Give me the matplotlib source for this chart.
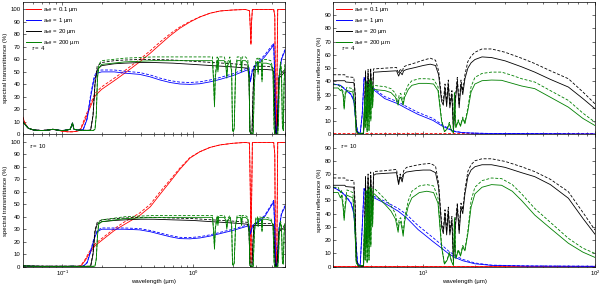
import matplotlib
matplotlib.use('Agg')
import matplotlib.pyplot as plt
from matplotlib.lines import Line2D

plt.rcParams['font.family'] = ['Liberation Sans', 'DejaVu Sans']
plt.rcParams['mathtext.fontset'] = 'custom'
plt.rcParams['mathtext.rm'] = 'Liberation Sans'
plt.rcParams['mathtext.it'] = 'Liberation Sans:italic'

# ---- left panels: spectral transmittance, 0.05-5 µm ----
red_lam = [0.05, 0.052, 0.055, 0.06, 0.07, 0.08, 0.085, 0.09, 0.1, 0.11,
           0.12, 0.13, 0.135, 0.14, 0.15, 0.16, 0.17, 0.179, 0.2, 0.25,
           0.3, 0.39, 0.47, 0.558, 0.665, 0.79, 0.944, 1.12, 1.34, 1.6,
           2.0, 2.5, 2.68, 2.72, 2.75, 2.78, 2.82, 4.1, 4.18, 4.22,
           4.26, 4.3, 4.34, 4.4, 5.0]
red_t4 = [14, 9, 5, 3.5, 3, 3.5, 4, 3.5, 2.5, 2,
          2, 2.5, 3, 5, 12, 19, 26, 31, 36, 43,
          49, 58, 65, 72, 79, 85, 90, 94, 97, 98.8,
          99.6, 100, 99, 85, 72, 90, 100, 100, 95, 40,
          3, 2, 40, 100, 100]
red_t4d = [14, 9, 5, 3.5, 3, 3.5, 4, 3.5, 2.5, 2,
           2, 2.5, 3, 6, 14, 21, 28, 33, 38, 45,
           51, 60, 67, 74, 80.5, 86, 90.5, 94, 97, 98.8,
           99.6, 100, 99, 85, 72, 90, 100, 100, 95, 40,
           3, 2, 40, 100, 100]
red_t10 = [0.8, 0.6, 0.5, 0.4, 0.3, 0.3, 0.3, 0.3, 0.3, 0.3,
           0.3, 0.3, 0.4, 1, 5, 10, 14, 17, 21, 29,
           34, 41, 48, 58, 68, 78, 87, 92, 95.5, 97.5,
           98.8, 99.5, 99, 60, 3, 50, 99.5, 99.5, 90, 20,
           0.5, 0.5, 20, 99.5, 99.5]
red_t10d = [0.8, 0.6, 0.5, 0.4, 0.3, 0.3, 0.3, 0.3, 0.3, 0.3,
            0.3, 0.3, 0.4, 1.5, 6, 11.5, 15.5, 18.5, 22.5, 30.5,
            36, 43, 50, 60, 69.5, 79, 87.5, 92, 95.5, 97.5,
            98.8, 99.5, 99, 60, 3, 50, 99.5, 99.5, 90, 20,
            0.5, 0.5, 20, 99.5, 99.5]

blue_lam = [0.05, 0.052, 0.055, 0.06, 0.07, 0.08, 0.085, 0.09, 0.1, 0.11,
            0.115, 0.12, 0.123, 0.13, 0.14, 0.145, 0.155, 0.165, 0.175, 0.185,
            0.2, 0.25, 0.3, 0.39, 0.47, 0.558, 0.665, 0.79, 0.944, 1.12,
            1.34, 1.6, 2.0, 2.5, 2.66, 2.72, 2.76, 2.82, 3.0, 3.5,
            4.0, 4.1, 4.18, 4.24, 4.3, 4.36, 4.5, 4.7, 5.0]
blue_t4 = [10, 8, 5, 3.5, 3, 3.5, 4, 3.5, 3, 3.5,
           4, 9, 4, 3.5, 3.5, 4, 12, 30, 44, 49,
           50, 50, 49, 48, 46, 43.5, 41.5, 40.3, 40, 40.5,
           42, 44, 47, 51, 52, 42, 45, 51, 55, 62,
           70, 72, 45, 5, 0, 8, 45, 60, 67]
blue_t4d = [10, 8, 5, 3.5, 3, 3.5, 4, 3.5, 3, 3.5,
            4, 9, 4, 3.5, 3.5, 4, 13, 32, 46, 51,
            51.5, 51.5, 50.5, 49.5, 47.5, 45, 43, 41.8, 41.5, 42,
            43.5, 45.5, 48.5, 52.5, 53.5, 43, 46, 52.5, 56.5, 63.5,
            71.5, 73, 45, 5, 0, 8, 46, 61, 68]
blue_t10 = [0.8, 0.6, 0.5, 0.4, 0.3, 0.3, 0.3, 0.3, 0.3, 0.3,
            0.3, 0.5, 0.3, 0.3, 0.3, 0.5, 3, 12, 22, 28,
            30, 30, 30, 29.5, 28, 26, 24, 22.5, 22.3, 23,
            24.5, 26.5, 29, 32, 33, 26, 28, 32, 34, 40,
            50, 52, 30, 2, 0, 4, 30, 42, 48]
blue_t10d = [0.8, 0.6, 0.5, 0.4, 0.3, 0.3, 0.3, 0.3, 0.3, 0.3,
             0.3, 0.5, 0.3, 0.3, 0.3, 0.5, 3.5, 13, 23, 29,
             31, 31, 31, 30.5, 29, 27, 25, 23.5, 23.3, 24,
             25.5, 27.5, 30, 33, 34, 27, 29, 33, 35, 41,
             51, 53, 30, 2, 0, 4, 31, 43, 49]

black_lam = [0.05, 0.052, 0.055, 0.06, 0.07, 0.08, 0.085, 0.09, 0.1, 0.11,
             0.115, 0.12, 0.123, 0.13, 0.14, 0.16, 0.165, 0.172, 0.178, 0.185,
             0.2, 0.25, 0.3, 0.4, 0.5, 0.7, 1.0, 1.4, 2.0, 2.6,
             2.66, 2.7, 2.74, 2.8, 2.85, 2.9, 3.5, 4.0, 4.1, 4.16,
             4.22, 4.34, 4.42, 4.5, 5.0]
black_t4 = [10, 8, 5, 3.5, 3, 3.5, 4, 3.5, 3, 3.5,
            4, 9, 4, 3.5, 3.2, 3.2, 3.5, 15, 40, 52,
            55, 56.5, 57, 57.5, 57.5, 57, 56, 55, 54, 53,
            45, 3, 0, 0, 30, 52, 52, 51.5, 50, 20,
            0, 0, 20, 45, 50]
black_t4d = [10, 8, 5, 3.5, 3, 3.5, 4, 3.5, 3, 3.5,
             4, 9, 4, 3.5, 3.2, 3.2, 3.5, 16, 42, 54.5,
             57.5, 59, 59.5, 60, 60, 59.5, 58.5, 57.5, 56.5, 55.5,
             47, 3, 0, 0, 31, 54.5, 54.5, 54, 52, 20,
             0, 0, 20, 47, 52]
black_t10 = [0.8, 0.6, 0.5, 0.4, 0.3, 0.3, 0.3, 0.3, 0.3, 0.3,
             0.3, 0.5, 0.3, 0.3, 0.3, 0.3, 0.5, 10, 28, 34,
             36, 37, 37.5, 38, 38, 37.5, 37, 36, 35, 34,
             28, 2, 0, 0, 20, 33, 33, 33, 32, 12,
             0, 0, 12, 28, 32]
black_t10d = [0.8, 0.6, 0.5, 0.4, 0.3, 0.3, 0.3, 0.3, 0.3, 0.3,
              0.3, 0.5, 0.3, 0.3, 0.3, 0.3, 0.5, 11, 29.5, 35.5,
              37.5, 38.5, 39, 39.5, 39.5, 39, 38.5, 37.5, 36.5, 35.5,
              29, 2, 0, 0, 21, 34.5, 34.5, 34.5, 33.5, 12,
              0, 0, 12, 29, 33.5]

green_lam = [0.05, 0.052, 0.055, 0.06, 0.07, 0.08, 0.085, 0.09, 0.1, 0.11,
             0.115, 0.12, 0.123, 0.13, 0.15, 0.172, 0.178, 0.182, 0.186, 0.19,
             0.2, 0.3, 0.5, 1.0, 1.4, 1.43, 1.45, 1.47, 1.52, 1.54,
             1.56, 1.72, 1.77, 1.8, 1.83, 1.9, 1.96, 1.99, 2.02, 2.05,
             2.1, 2.16, 2.3, 2.33, 2.36, 2.5, 2.6, 2.66, 2.7, 2.86,
             2.92, 3.0, 3.08, 3.12, 3.16, 3.3, 3.34, 3.38, 3.6, 3.9,
             4.05, 4.13, 4.18, 4.4, 4.46, 4.52, 4.62, 4.7, 4.78, 4.86,
             4.92, 5.0]
green_t4 = [10, 8, 5, 3.5, 3, 3.5, 4, 3.5, 3, 3.5,
            4, 9, 4, 3.5, 3, 3, 4, 15, 45, 53,
            56, 58, 59, 59, 59, 40, 22, 45, 59, 50,
            59, 59, 55, 45, 55, 59, 50, 3, 2, 5,
            50, 59, 59, 50, 59, 59, 57, 45, 2, 0,
            40, 57, 58, 48, 58, 57, 42, 57, 57, 56,
            50, 5, 0, 0, 10, 45, 55, 50, 5, 3,
            40, 55]
green_t4d = [10, 8, 5, 3.5, 3, 3.5, 4, 3.5, 3, 3.5,
             4, 9, 4, 3.5, 3, 3, 4, 16, 48, 56,
             59, 61, 62, 62, 62, 42, 23, 47, 62, 52,
             62, 62, 58, 47, 58, 62, 52, 3, 2, 5,
             52, 62, 62, 52, 62, 62, 60, 47, 2, 0,
             42, 60, 61, 50, 61, 60, 44, 60, 60, 59,
             52, 5, 0, 0, 10, 47, 58, 52, 5, 3,
             42, 58]
green_t10 = [0.8, 0.6, 0.5, 0.4, 0.3, 0.3, 0.3, 0.3, 0.3, 0.3,
             0.3, 0.5, 0.3, 0.3, 0.3, 0.3, 0.5, 6, 25, 34,
             36, 38.5, 39.5, 39.5, 39.5, 27, 14, 30, 39.5, 33,
             39.5, 39.5, 37, 30, 37, 39.5, 33, 2, 1, 3,
             33, 39.5, 39.5, 33, 39.5, 39.5, 38, 30, 1, 0,
             27, 38, 38.5, 32, 38.5, 38, 28, 38, 38, 37,
             33, 3, 0, 0, 6, 28, 35, 32, 3, 2,
             26, 34]
green_t10d = [0.8, 0.6, 0.5, 0.4, 0.3, 0.3, 0.3, 0.3, 0.3, 0.3,
              0.3, 0.5, 0.3, 0.3, 0.3, 0.3, 0.5, 6.5, 26, 35.5,
              37.5, 40, 41, 41, 41, 28, 14.5, 31, 41, 34,
              41, 41, 38.5, 31, 38.5, 41, 34, 2, 1, 3,
              34, 41, 41, 34, 41, 41, 39.5, 31, 1, 0,
              28, 39.5, 40, 33, 40, 39.5, 29, 39.5, 39.5, 38.5,
              34, 3, 0, 0, 6, 29, 36.5, 33, 3, 2,
              27, 35.5]

# ---- right panels: spectral reflectance, 3-100 µm ----
rred_lam = [3.0, 100.0]
rred_t4 = [0.5, 0.5]
rred_t4d = [0.9, 0.9]
rred_t10 = [0.5, 0.5]
rred_t10d = [0.9, 0.9]

rblue_lam = [3.0, 3.3, 3.5, 3.8, 3.95, 4.05, 4.15, 4.3, 4.42, 4.53,
             4.65, 5.0, 5.97, 7.15, 8.0, 9.35, 10.0, 11.4, 12.8, 14.0,
             15.3, 17.0, 20.0, 25.0, 40.0, 100.0]
rblue_t4 = [38, 37, 34, 30, 25, 10, 2, 0.5, 15, 43,
            39, 35, 27, 23, 19.5, 15, 13.5, 10.5, 6.5, 4,
            2, 1.2, 0.8, 0.6, 0.5, 0.3]
rblue_t4d = [38, 37, 34.5, 30.5, 26, 11, 2, 0.5, 15, 43,
             39.5, 36, 28.5, 24.5, 21, 16.5, 15, 12, 7.5, 4.5,
             2.3, 1.3, 0.9, 0.6, 0.5, 0.3]
rblue_t10 = [60, 57, 54, 48, 40, 20, 3, 0.5, 30, 59,
             56, 53, 48, 42, 37, 28, 25, 19, 14, 10,
             7, 4.5, 2.2, 1, 0.5, 0.3]
rblue_t10d = [60, 57, 54.5, 48.5, 41, 21, 3, 0.5, 30, 59,
              56.5, 54, 49.5, 44, 39.5, 31, 28, 22, 16.5, 12,
              8.5, 5.5, 2.8, 1.2, 0.6, 0.3]

rblack_lam = [3.0, 3.5, 3.55, 3.95, 4.02, 4.08, 4.2, 4.5, 4.56, 4.62,
              4.7, 4.78, 4.85, 4.95, 5.05, 5.15, 5.3, 6.0, 7.0, 7.1,
              7.2, 7.35, 7.55, 7.7, 8.0, 9.0, 10.0, 11.0, 11.8, 12.3,
              12.8, 13.1, 13.4, 13.7, 14.0, 14.3, 14.7, 15.0, 15.4, 15.8,
              16.2, 16.6, 17.0, 17.5, 18.2, 19.0, 20.0, 22.0, 25.0, 30.0,
              37.4, 44.6, 55.0, 70.0, 85.0, 100.0]
rblack_t4 = [40.5, 40.5, 39.5, 39, 30, 3, 0.5, 0.5, 20, 45,
             10, 46, 15, 47, 25, 47, 47, 47.5, 48, 46,
             44, 47, 45, 48, 49, 50.5, 52, 53, 52, 45,
             25, 22, 35, 21, 38, 20, 30, 2, 25, 40,
             20, 38, 30, 42, 50, 54, 56.5, 58.5, 58, 55.5,
             51, 47, 41.5, 35.7, 27, 19.3]
rblack_t4d = [45, 45, 43.5, 43, 32, 3, 0.5, 0.5, 22, 48,
              12, 49, 17, 50, 28, 49.5, 49.5, 50, 50.5, 48,
              46, 49.5, 47, 51, 52, 54, 56, 57.5, 56, 48,
              28, 25, 38, 24, 41, 23, 33, 3, 28, 43,
              23, 41, 33, 45, 55, 59, 62, 64.5, 64.5, 62,
              57.5, 53.5, 48, 42, 32, 23]
rblack_t10 = [61.5, 61.5, 60.5, 60, 45, 5, 0.5, 0.5, 30, 65,
              15, 67, 20, 69, 35, 69, 70, 70.5, 71, 66,
              62, 68, 64, 70, 71.5, 72.5, 73, 73, 71, 60,
              30, 25, 40, 24, 42, 24, 35, 3, 30, 45,
              25, 45, 40, 55, 68, 73, 75.5, 77, 77, 75,
              71, 68, 62, 51.7, 36.5, 24.5]
rblack_t10d = [67, 67, 65.5, 65, 48, 5, 0.5, 0.5, 32, 68,
               17, 70, 22, 71.5, 38, 71.5, 72, 72.5, 73.5, 68,
               64, 70, 66, 72.5, 75, 76.5, 77.5, 78, 76, 63,
               33, 28, 43, 27, 45, 27, 38, 3, 33, 48,
               28, 48, 43, 58, 72, 77, 80, 81.5, 81.5, 79.5,
               75.5, 71.8, 66, 56.6, 41, 27.7]

rgreen_lam = [3.0, 3.2, 3.3, 3.35, 3.42, 3.47, 3.52, 3.6, 3.9, 4.0,
              4.08, 4.2, 4.5, 4.56, 4.6, 4.66, 4.72, 4.78, 4.84, 4.9,
              4.96, 5.02, 5.08, 5.14, 5.2, 5.5, 6.0, 6.5, 6.9, 7.05,
              7.15, 7.25, 7.4, 7.55, 7.65, 7.8, 8.2, 8.6, 9.5, 10.5,
              11.5, 12.2, 12.8, 13.3, 13.8, 14.2, 14.6, 15.0, 15.2, 15.5,
              16.0, 16.5, 17.0, 17.5, 18.2, 19.0, 20.0, 22.0, 25.0, 28.6,
              33.0, 37.4, 44.6, 55.0, 70.0, 85.0, 100.0]
rgreen_t4 = [35, 35, 33, 34, 30, 19, 30, 33, 32, 20,
             2, 0.5, 1, 25, 5, 38, 2, 36, 3, 40,
             10, 37, 20, 34, 34, 33.5, 33, 31.5, 28, 24,
             22, 27, 28, 25, 22, 28, 34, 37, 38.5, 38.5,
             38, 33, 10, 2, 4, 8, 3, 1, 30, 5,
             10, 6, 12, 8, 18, 32, 38, 40.5, 41, 40.8,
             38.5, 36.5, 34.5, 28, 20.5, 12, 6.6]
rgreen_t4d = [37.5, 37.5, 35.5, 36.5, 32, 20, 32, 35.5, 34.5, 22,
              2, 0.5, 1, 27, 5, 40, 2, 38, 3, 42,
              11, 40, 22, 37, 37, 36.5, 36, 34.5, 31, 26,
              24, 30, 31, 27, 24, 31, 37.5, 40.5, 42, 42,
              41.5, 36, 11, 2, 4.5, 9, 3, 1, 32, 5.5,
              11, 7, 13, 9, 20, 36, 43, 46, 47, 47,
              44.5, 42, 39.5, 33, 25.6, 16, 9.1]
rgreen_t10 = [56, 56, 52, 54, 45, 35, 45, 54, 52, 30,
              3, 0.5, 1, 35, 5, 55, 3, 56, 5, 58,
              15, 56, 30, 55, 55, 52, 47, 42, 36, 30,
              26, 33, 34, 28, 23, 34, 46, 52, 56, 57,
              56, 48, 15, 2, 5, 10, 4, 1, 35, 6,
              12, 8, 15, 12, 25, 45, 55, 60, 62, 61.5,
              57, 50, 39, 29, 17.7, 11, 7]
rgreen_t10d = [60, 60, 56, 58, 48, 37, 48, 58, 56, 32,
               3, 0.5, 1, 37, 5, 58, 3, 59, 5, 61,
               16, 59, 32, 58.5, 59, 56, 51, 46, 40, 33,
               28, 36, 37, 30, 25, 37, 50, 57, 61, 62,
               61, 52, 16, 2, 5.5, 11, 4.5, 1, 37, 6.5,
               13, 9, 16, 13, 27, 50, 60, 65, 67, 66.5,
               62, 55, 44, 33.5, 21.4, 14, 10]

sizes = ['0.1', '1', '20', '200']
colors = ['#ff0000', '#0000ff', '#000000', '#008000']

left = [(red_lam, red_t4, red_t4d, red_t10, red_t10d),
        (blue_lam, blue_t4, blue_t4d, blue_t10, blue_t10d),
        (black_lam, black_t4, black_t4d, black_t10, black_t10d),
        (green_lam, green_t4, green_t4d, green_t10, green_t10d)]
right = [(rred_lam, rred_t4, rred_t4d, rred_t10, rred_t10d),
         (rblue_lam, rblue_t4, rblue_t4d, rblue_t10, rblue_t10d),
         (rblack_lam, rblack_t4, rblack_t4d, rblack_t10, rblack_t10d),
         (rgreen_lam, rgreen_t4, rgreen_t4d, rgreen_t10, rgreen_t10d)]

fig = plt.figure(figsize=(6, 2.85), dpi=100)
fs = 4.3
lw = 0.6
dash = (0, (3.5, 2))

def style(ax, xlim, ylim, yticks, xlab):
    ax.set_xscale('log')
    ax.set_xlim(*xlim)
    ax.set_ylim(*ylim)
    ax.set_yticks(yticks)
    ax.tick_params(which='both', direction='in', top=True, right=True,
                   labelsize=fs, width=0.4, pad=1.5)
    ax.tick_params(which='major', length=2.5)
    ax.tick_params(which='minor', length=1.3)
    for s in ax.spines.values():
        s.set_linewidth(0.5)
    if not xlab:
        ax.tick_params(which='both', labelbottom=False)
    else:
        ax.set_xlabel('wavelength (µm)', fontsize=fs, labelpad=1)

# axes boxes: [left, bottom, width, height]
boxes = {
    'tl': [0.0378, 0.5288, 0.4372, 0.4642],
    'bl': [0.0378, 0.0642, 0.4372, 0.4646],
    'tr': [0.5555, 0.5288, 0.4362, 0.4642],
    'br': [0.5555, 0.0642, 0.4362, 0.4646],
}

for side, data, xlim, ylim, yticks, ylabel in [
        ('l', left, (0.05, 5), (0, 106), range(0, 101, 10), 'spectral transmittance (%)'),
        ('r', right, (3, 100), (0, 100), range(0, 91, 10), 'spectral reflectance (%)')]:
    for row, tau in [('t', 4), ('b', 10)]:
        ax = fig.add_axes(boxes[row + side])
        k = 1 if tau == 4 else 3
        handles = []
        for (lam, *vals), c, sz in zip(data, colors, sizes):
            ax.plot(lam, vals[k - 1], color=c, lw=lw)
            ax.plot(lam, vals[k], color=c, lw=lw, ls=dash)
            handles.append(Line2D([], [], color=c, lw=0.7,
                                  label=r'a$_{\rm eff}$ = ' + sz + ' µm'))
        style(ax, xlim, ylim, yticks, row == 'b')
        ax.set_ylabel(ylabel, fontsize=fs, labelpad=2)
        if row == 't':
            ax.legend(handles=handles, loc='upper left', frameon=False,
                      fontsize=fs, handlelength=2.6, handletextpad=0.3,
                      labelspacing=0.35, borderaxespad=0.1,
                      bbox_to_anchor=(0.0, 1.0))
            ax.text(0.03, 0.655, r'$\tau$ = 4', transform=ax.transAxes,
                    fontsize=fs, va='center')
        else:
            ax.text(0.025, 0.91, r'$\tau$ = 10', transform=ax.transAxes,
                    fontsize=fs, va='center')

plt.savefig('out.png', dpi=100)
